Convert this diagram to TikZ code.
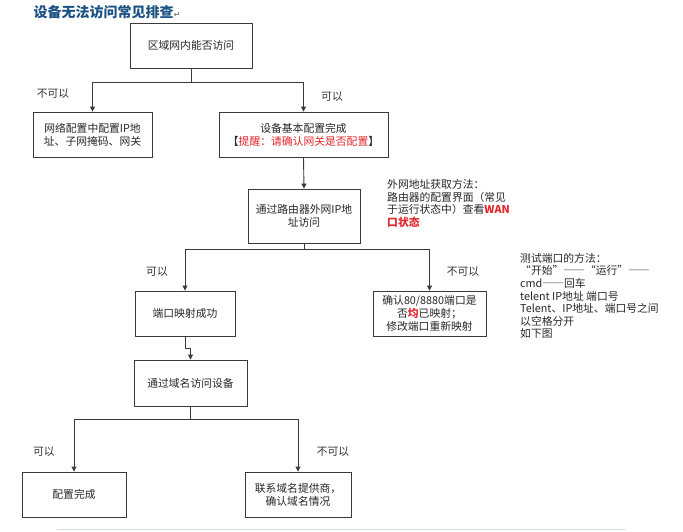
\documentclass[tikz,border=0pt]{standalone}
\usepackage{fontspec}
\setmainfont{Noto Sans CJK SC}
\newfontfamily\symfont{DejaVu Sans}
\newfontfamily\widefont[RawFeature=+fwid]{Noto Sans CJK SC}
\usepackage{xcolor}
\usetikzlibrary{positioning,arrows.meta}
\definecolor{titleblue}{HTML}{1C5283}
\definecolor{boxline}{HTML}{3A3A3A}
\definecolor{warnred}{HTML}{E3262B}
\definecolor{pagerule}{HTML}{D6E0E8}

\begin{document}
\begin{tikzpicture}[x=1pt,y=-1pt,font=\fontsize{10.8}{13}\selectfont,
    box/.style={draw=boxline,line width=.9pt,align=center,inner sep=2pt,text=black!85},
    link/.style={draw=boxline,line width=.9pt,-{Triangle[width=5pt,length=5pt]}},
    answer/.style={text=black!80}]
  \useasboundingbox (0,0) rectangle (683,531);
  \node[anchor=west,text=titleblue,font=\fontsize{14}{16}\bfseries] (title) at (30,12)
    {设备无法访问常见排查{\symfont\fontsize{8}{8}\selectfont\color{gray}↵}};
  % boxes
  \node[box,minimum width=122pt,minimum height=45pt] (lan) at (191,45.5) {区域网内能否访问};
  \node[box,minimum width=119pt,minimum height=45pt] (ipset) at (92.5,134.5)
    {网络配置中配置IP地\\址、子网掩码、网关};
  \node[box,minimum width=169pt,minimum height=45pt] (basic) at (303.5,134.5)
    {设备基本配置完成\\【{\color{warnred}提醒：请确认网关是否配置}】};
  \node[box,minimum width=112pt,minimum height=54pt] (wanip) at (304,216)
    {通过路由器外网IP地\\址访问};
  \node[box,minimum width=100pt,minimum height=45pt] (mapok) at (185,313.5) {端口映射成功};
  \node[box,minimum width=113pt,minimum height=45pt] (mapfix) at (429.5,313.5)
    {确认80/8880端口是\\否{\bfseries\color{warnred}均}已映射；\\修改端口重新映射};
  \node[box,minimum width=113pt,minimum height=46pt] (domain) at (190.5,383) {通过域名访问设备};
  \node[box,minimum width=104pt,minimum height=45pt] (done) at (74,494.5) {配置完成};
  \node[box,minimum width=106pt,minimum height=45pt] (isp) at (298,494.5)
    {联系域名提供商，\\确认域名情况};
  % branches
  \draw[link] (lan.south) -- ++(0,14) -| (ipset.north);
  \draw[link] (lan.south) -- ++(0,14) -| (basic.north);
  \draw[link] (basic.south) -- (wanip.north);
  \draw[link] (wanip.south) -- ++(0,6) -| (mapok.north);
  \draw[link] (wanip.south) -- ++(0,6) -| (mapfix.north);
  \draw[link] (mapok.south) -- ++(0,12) -| (domain.north);
  \draw[link] (domain.south) -- ++(0,13) -| (done.north);
  \draw[link] (domain.south) -- ++(0,13) -| (isp.north);
  \node[answer] (no1) at (53,94) {不可以};   \node[answer] (yes1) at (332,97) {可以};
  \node[answer] (yes2) at (157,272) {可以};  \node[answer] (no2) at (463,272) {不可以};
  \node[answer] (yes3) at (44,452) {可以};   \node[answer] (no3) at (333,452) {不可以};
  % notes
  \node[anchor=north west,align=left,inner sep=0pt,text=black!85,font=\fontsize{10.8}{12.8}\selectfont] (wannote) at (387,179)
    {外网地址获取方法：\\路由器的配置界面（常见\\于运行状态中）查看{\bfseries\color{warnred}WAN}\\{\bfseries\color{warnred}口状态}};
  \node[anchor=north west,align=left,inner sep=0pt,text=black!85,font=\fontsize{10.8}{12.6}\selectfont] (portnote) at (520,253)
    {测试端口的方法：\\{\widefont “开始”——“运行”——}\\cmd{\widefont ——}回车\\telent IP地址 端口号\\Telent、IP地址、端口号之间\\以空格分开\\如下图};
  \draw[pagerule,line width=.8pt] (57,529) -- (626,529);
\end{tikzpicture}
\end{document}
